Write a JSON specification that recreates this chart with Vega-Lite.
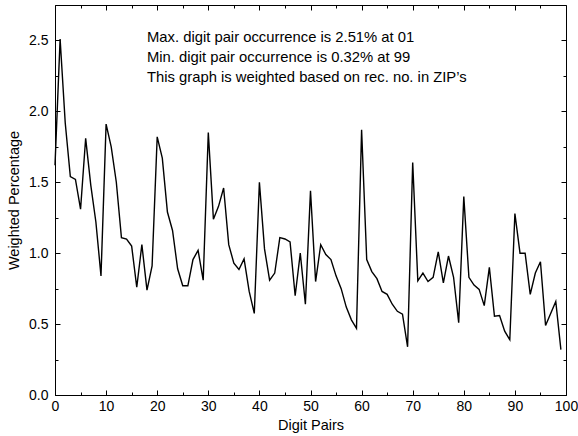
{
  "$schema": "https://vega.github.io/schema/vega-lite/v6.json",
  "width": 511,
  "height": 390,
  "autosize": {"type": "none"},
  "padding": {"left": 55, "top": 5, "right": 12, "bottom": 41},
  "config": {
    "font": "Liberation Sans",
    "view": {"stroke": "black", "strokeWidth": 1},
    "axis": {
      "domainColor": "black",
      "tickColor": "black",
      "labelColor": "black",
      "titleColor": "black",
      "labelFont": "Liberation Sans",
      "titleFont": "Liberation Sans",
      "labelFontSize": 14,
      "titleFontSize": 14.5,
      "titleFontWeight": "normal",
      "grid": false
    }
  },
  "layer": [
    {
      "data": {"values": [
        {"pair": 0, "pct": 1.62}, {"pair": 1, "pct": 2.51}, {"pair": 2, "pct": 1.92}, {"pair": 3, "pct": 1.54}, {"pair": 4, "pct": 1.52},
        {"pair": 5, "pct": 1.31}, {"pair": 6, "pct": 1.81}, {"pair": 7, "pct": 1.48}, {"pair": 8, "pct": 1.22}, {"pair": 9, "pct": 0.84},
        {"pair": 10, "pct": 1.91}, {"pair": 11, "pct": 1.75}, {"pair": 12, "pct": 1.5}, {"pair": 13, "pct": 1.11}, {"pair": 14, "pct": 1.1},
        {"pair": 15, "pct": 1.05}, {"pair": 16, "pct": 0.76}, {"pair": 17, "pct": 1.06}, {"pair": 18, "pct": 0.74}, {"pair": 19, "pct": 0.91},
        {"pair": 20, "pct": 1.82}, {"pair": 21, "pct": 1.67}, {"pair": 22, "pct": 1.29}, {"pair": 23, "pct": 1.16}, {"pair": 24, "pct": 0.89},
        {"pair": 25, "pct": 0.77}, {"pair": 26, "pct": 0.77}, {"pair": 27, "pct": 0.955}, {"pair": 28, "pct": 1.02}, {"pair": 29, "pct": 0.81},
        {"pair": 30, "pct": 1.85}, {"pair": 31, "pct": 1.24}, {"pair": 32, "pct": 1.33}, {"pair": 33, "pct": 1.46}, {"pair": 34, "pct": 1.06},
        {"pair": 35, "pct": 0.93}, {"pair": 36, "pct": 0.885}, {"pair": 37, "pct": 0.96}, {"pair": 38, "pct": 0.73}, {"pair": 39, "pct": 0.575},
        {"pair": 40, "pct": 1.5}, {"pair": 41, "pct": 1.03}, {"pair": 42, "pct": 0.81}, {"pair": 43, "pct": 0.86}, {"pair": 44, "pct": 1.11},
        {"pair": 45, "pct": 1.1}, {"pair": 46, "pct": 1.08}, {"pair": 47, "pct": 0.7}, {"pair": 48, "pct": 1.0}, {"pair": 49, "pct": 0.64},
        {"pair": 50, "pct": 1.44}, {"pair": 51, "pct": 0.8}, {"pair": 52, "pct": 1.06}, {"pair": 53, "pct": 0.99}, {"pair": 54, "pct": 0.955},
        {"pair": 55, "pct": 0.84}, {"pair": 56, "pct": 0.75}, {"pair": 57, "pct": 0.62}, {"pair": 58, "pct": 0.53}, {"pair": 59, "pct": 0.47},
        {"pair": 60, "pct": 1.87}, {"pair": 61, "pct": 0.955}, {"pair": 62, "pct": 0.87}, {"pair": 63, "pct": 0.82}, {"pair": 64, "pct": 0.73},
        {"pair": 65, "pct": 0.71}, {"pair": 66, "pct": 0.64}, {"pair": 67, "pct": 0.59}, {"pair": 68, "pct": 0.57}, {"pair": 69, "pct": 0.34},
        {"pair": 70, "pct": 1.64}, {"pair": 71, "pct": 0.805}, {"pair": 72, "pct": 0.86}, {"pair": 73, "pct": 0.8}, {"pair": 74, "pct": 0.83},
        {"pair": 75, "pct": 1.01}, {"pair": 76, "pct": 0.79}, {"pair": 77, "pct": 0.98}, {"pair": 78, "pct": 0.83}, {"pair": 79, "pct": 0.51},
        {"pair": 80, "pct": 1.4}, {"pair": 81, "pct": 0.83}, {"pair": 82, "pct": 0.775}, {"pair": 83, "pct": 0.745}, {"pair": 84, "pct": 0.63},
        {"pair": 85, "pct": 0.9}, {"pair": 86, "pct": 0.555}, {"pair": 87, "pct": 0.56}, {"pair": 88, "pct": 0.45}, {"pair": 89, "pct": 0.39},
        {"pair": 90, "pct": 1.28}, {"pair": 91, "pct": 1.0}, {"pair": 92, "pct": 1.0}, {"pair": 93, "pct": 0.71}, {"pair": 94, "pct": 0.86},
        {"pair": 95, "pct": 0.94}, {"pair": 96, "pct": 0.49}, {"pair": 97, "pct": 0.575}, {"pair": 98, "pct": 0.66}, {"pair": 99, "pct": 0.32}
      ]},
      "mark": {"type": "line", "color": "black", "strokeWidth": 1.4},
      "encoding": {
        "x": {
          "field": "pair", "type": "quantitative",
          "scale": {"domain": [0, 100], "nice": false, "zero": false},
          "axis": {
            "orient": "bottom",
            "title": "Digit Pairs",
            "values": [0, 5, 10, 15, 20, 25, 30, 35, 40, 45, 50, 55, 60, 65, 70, 75, 80, 85, 90, 95, 100],
            "labelExpr": "datum.value % 10 === 0 ? datum.value : ''",
            "tickSize": {"condition": {"test": "datum.value % 10 === 0", "value": -5}, "value": -3},
            "labelPadding": 9,
            "labelFlush": false,
            "labelOverlap": false,
            "titlePadding": 3
          }
        },
        "y": {
          "field": "pct", "type": "quantitative",
          "scale": {"domain": [0, 2.75], "nice": false},
          "axis": {
            "orient": "left",
            "title": "Weighted Percentage",
            "values": [0, 0.25, 0.5, 0.75, 1, 1.25, 1.5, 1.75, 2, 2.25, 2.5],
            "labelExpr": "round(datum.value * 4) % 2 === 0 ? format(datum.value, '.1f') : ''",
            "tickSize": {"condition": {"test": "round(datum.value * 4) % 2 === 0", "value": -5}, "value": -3},
            "labelPadding": 12,
            "labelFlush": false,
            "labelOverlap": false,
            "titlePadding": 7
          }
        }
      }
    },
    {
      "data": {"values": [
        {"pair": 18, "pct": 2.515, "label": "Max. digit pair occurrence is 2.51% at 01"},
        {"pair": 18, "pct": 2.373, "label": "Min. digit pair occurrence is 0.32% at 99"},
        {"pair": 18, "pct": 2.232, "label": "This graph is weighted based on rec. no. in ZIP’s"}
      ]},
      "mark": {"type": "text", "align": "left", "baseline": "middle", "fontSize": 14.8, "font": "Liberation Sans", "color": "black"},
      "encoding": {
        "x": {
          "field": "pair", "type": "quantitative",
          "scale": {"domain": [0, 100], "nice": false, "zero": false},
          "axis": {
            "orient": "top", "title": null, "labels": false, "domain": false,
            "values": [0, 5, 10, 15, 20, 25, 30, 35, 40, 45, 50, 55, 60, 65, 70, 75, 80, 85, 90, 95, 100],
            "tickSize": {"condition": {"test": "datum.value % 10 === 0", "value": -5}, "value": -3}
          }
        },
        "y": {
          "field": "pct", "type": "quantitative",
          "scale": {"domain": [0, 2.75], "nice": false},
          "axis": {
            "orient": "right", "title": null, "labels": false, "domain": false,
            "values": [0, 0.25, 0.5, 0.75, 1, 1.25, 1.5, 1.75, 2, 2.25, 2.5],
            "tickSize": {"condition": {"test": "round(datum.value * 4) % 2 === 0", "value": -5}, "value": -3}
          }
        },
        "text": {"field": "label"}
      }
    }
  ],
  "resolve": {"axis": {"x": "independent", "y": "independent"}}
}
